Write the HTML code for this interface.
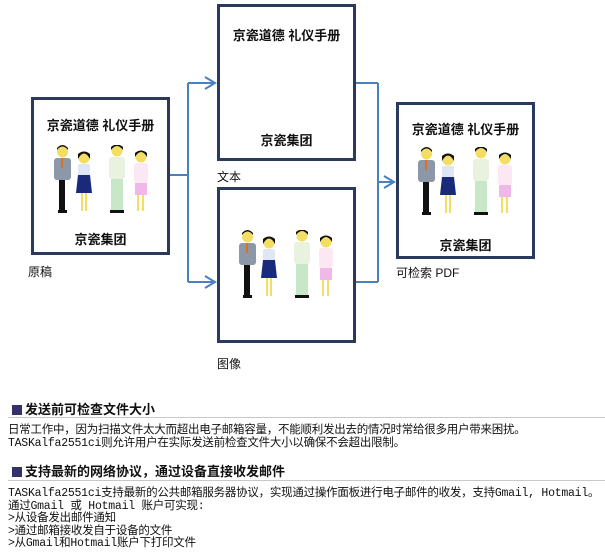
<!DOCTYPE html>
<html><head><meta charset="utf-8"><style>
body{margin:0;width:605px;height:560px;background:#fff;position:relative;overflow:hidden;font-family:"Liberation Sans","Noto Sans CJK SC",sans-serif;}
.a{position:absolute;white-space:nowrap}
.box{position:absolute;border:3px solid #2b3a5c;box-sizing:border-box;background:#fff}
.t{position:absolute;left:0;right:0;text-align:center;font-weight:bold;font-size:13px;color:#111}
.lb{font-size:12px;color:#111}
.h{font-weight:bold;font-size:13px;color:#111}
.sq{display:inline-block;width:10px;height:10px;background:#33336a;margin-right:3px;vertical-align:-1px}
.hr{position:absolute;left:8px;width:597px;height:1px;background:#c8c8c8}
.p{font-size:11.5px;line-height:12.5px;letter-spacing:-0.25px;color:#111;font-family:"Liberation Mono","Noto Sans CJK SC",monospace}
</style></head><body>
<svg width="0" height="0" style="position:absolute">
<defs>
<g id="ppl">
 <rect x="6" y="30" width="6" height="36" fill="#111"/>
 <rect x="1" y="13" width="17" height="22" rx="3" fill="#8c98a8"/>
 <rect x="8" y="13" width="2" height="10" fill="#e07020"/>
 <circle cx="9.5" cy="7" r="5.5" fill="#f3de63"/>
 <path d="M4 5 Q9.5 -2 15 5 L15 3 Q9.5 -3 4 3Z" fill="#111"/>
 <rect x="5" y="65" width="9" height="3" fill="#111"/>
 <circle cx="31" cy="13" r="5.5" fill="#f3de63"/>
 <path d="M25 14 Q31 3 37 14 L37 9 Q31 4 25 9Z" fill="#111"/>
 <rect x="25" y="19" width="12" height="12" rx="2" fill="#dfe6f4"/>
 <path d="M25 30 L37 30 L39 48 L23 48Z" fill="#1a2a7a"/>
 <rect x="28" y="48" width="2" height="18" fill="#f3de63"/>
 <rect x="32" y="48" width="2" height="18" fill="#f3de63"/>
 <circle cx="64" cy="6" r="5.5" fill="#f3de63"/>
 <path d="M58 5 Q64 -3 70 5 L70 2 Q64 -3 58 2Z" fill="#111"/>
 <rect x="56" y="12" width="16" height="22" rx="3" fill="#e9f2de"/>
 <rect x="58" y="34" width="12" height="32" fill="#c8e6c8"/>
 <rect x="57" y="65" width="14" height="3" fill="#111"/>
 <circle cx="88" cy="12" r="5.5" fill="#f3de63"/>
 <path d="M82 12 Q88 2 94 12 L94 8 Q88 3 82 8Z" fill="#111"/>
 <rect x="81" y="18" width="14" height="20" rx="3" fill="#fbe8f2"/>
 <rect x="82" y="38" width="12" height="12" fill="#f0b8e8"/>
 <rect x="84" y="50" width="2" height="16" fill="#f3de63"/>
 <rect x="89" y="50" width="2" height="16" fill="#f3de63"/>
</g>
</defs></svg>

<div class="box" style="left:31px;top:97px;width:139px;height:158px">
 <div class="t" style="top:15px">京瓷道德 礼仪手册</div>
 <svg class="a" style="left:19px;top:45px" width="100" height="72"><use href="#ppl"/></svg>
 <div class="t" style="top:129px">京瓷集团</div>
</div>
<div class="box" style="left:217px;top:4px;width:139px;height:157px">
 <div class="t" style="top:18px">京瓷道德 礼仪手册</div>
 <div class="t" style="top:123px">京瓷集团</div>
</div>
<div class="box" style="left:217px;top:187px;width:139px;height:156px">
 <svg class="a" style="left:18px;top:40px" width="100" height="72"><use href="#ppl"/></svg>
</div>
<div class="box" style="left:396px;top:102px;width:139px;height:157px">
 <div class="t" style="top:14px">京瓷道德 礼仪手册</div>
 <svg class="a" style="left:18px;top:42px" width="100" height="72"><use href="#ppl"/></svg>
 <div class="t" style="top:130px">京瓷集团</div>
</div>

<svg class="a" style="left:0;top:0" width="605" height="380">
 <g fill="none" stroke="#4a7fc0" stroke-width="2">
  <path d="M170 175 H188 M188 83 V282 M188 83 H215 M188 282 H215"/>
  <path d="M205 77 L215 83 L205 89 M205 276 L215 282 L205 288"/>
  <path d="M356 83 H378 M356 282 H378 M378 83 V282 M378 182 H394"/>
  <path d="M384 176 L394 182 L384 188"/>
 </g>
</svg>

<div class="a lb" style="left:28px;top:263px">原稿</div>
<div class="a lb" style="left:217px;top:168px">文本</div>
<div class="a lb" style="left:217px;top:355px">图像</div>
<div class="a lb" style="left:396px;top:264px">可检索 PDF</div>

<div class="a h" style="left:12px;top:399px"><span class="sq"></span>发送前可检查文件大小</div>
<div class="hr" style="top:417px"></div>
<div class="a p" style="left:8px;top:425px">日常工作中，因为扫描文件太大而超出电子邮箱容量，不能顺利发出去的情况时常给很多用户带来困扰。<br>TASKalfa2551ci则允许用户在实际发送前检查文件大小以确保不会超出限制。</div>

<div class="a h" style="left:12px;top:461px"><span class="sq"></span>支持最新的网络协议，通过设备直接收发邮件</div>
<div class="hr" style="top:480px"></div>
<div class="a p" style="left:8px;top:488px">TASKalfa2551ci支持最新的公共邮箱服务器协议，实现通过操作面板进行电子邮件的收发，支持Gmail, Hotmail。<br>通过Gmail 或 Hotmail 账户可实现:<br>&gt;从设备发出邮件通知<br>&gt;通过邮箱接收发自于设备的文件<br>&gt;从Gmail和Hotmail账户下打印文件</div>
</body></html>
